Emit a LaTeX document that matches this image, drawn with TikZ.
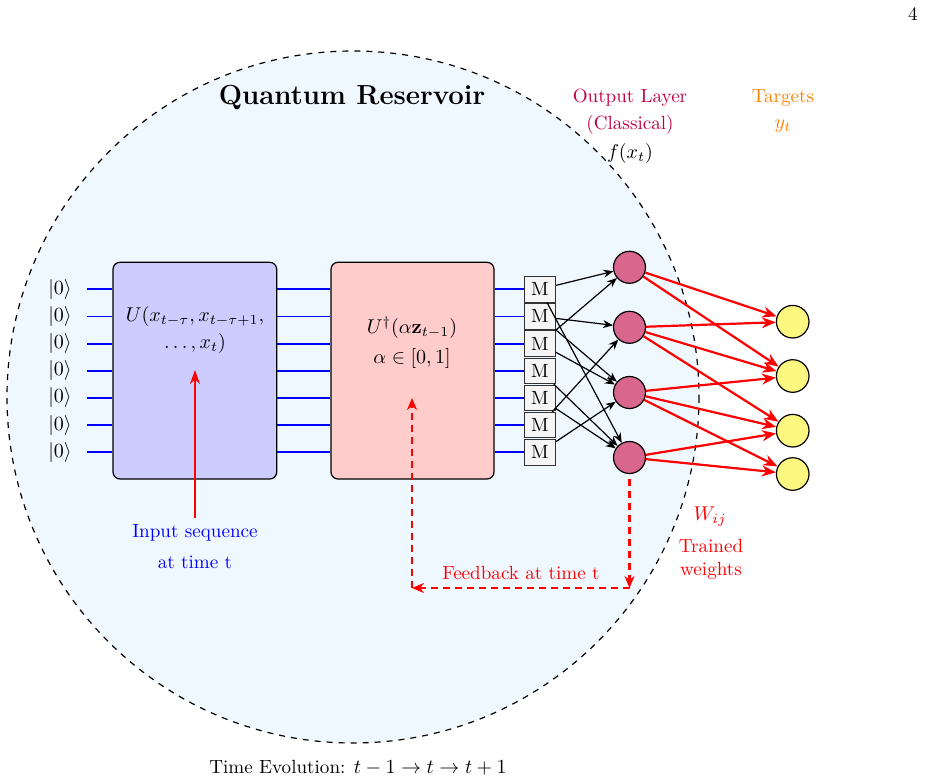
\documentclass[tikz,border=0pt]{standalone}
\usetikzlibrary{arrows.meta}
\definecolor{bgblue}{RGB}{240,248,255}
\begin{document}
\begin{tikzpicture}[x=0.5pt,y=-0.5pt,
  every node/.style={font=\fontsize{9.55}{11.5}\selectfont},
  wire/.style={blue, line width=0.9pt},
  gatebox/.style={draw=black, line width=0.6pt, rounded corners=3.5pt, inner sep=0pt},
  mbox/.style={draw=black!80, fill=gray!8, line width=0.5pt, minimum width=15.3pt, minimum height=12.8pt, inner sep=0pt},
  neuron/.style={circle, draw=black, fill=purple!60, line width=0.6pt, minimum size=16pt, inner sep=0pt},
  target/.style={circle, draw=black, fill=yellow!50, line width=0.6pt, minimum size=16.3pt, inner sep=0pt},
  marrow/.style={-{Stealth[length=5pt,width=4pt]}, line width=0.6pt},
  warrow/.style={red, -{Stealth[length=7pt,width=5.5pt]}, line width=1.1pt},
  fb/.style={red, dash pattern=on 3.5pt off 2.5pt, line width=1.1pt, -{Stealth[length=6pt,width=5pt]}},
]
\useasboundingbox (0,0) rectangle (927,782);
\node (pg) at (913,14) {4};
% reservoir circle
\draw[dashed, line width=0.6pt, fill=bgblue] (353,397) circle[radius=346];
\node[font=\fontsize{13.8}{16}\selectfont\bfseries] (title) at (352,98) {Quantum Reservoir};
% gates
\node[gatebox, fill=blue!20, minimum width=81.85pt, minimum height=108.35pt] (u1) at (194.85,370.65) {};
\node[gatebox, fill=red!20, minimum width=81.5pt, minimum height=108.35pt] (u2) at (412.5,370.65) {};
% kets, wires, measurements
\foreach \i in {1,...,7}{
  \pgfmathsetmacro{\yy}{289.3+27.17*(\i-1)}
  \node (k\i) at (60,\yy) {$|0\rangle$};
  \node[mbox] (m\i) at (540,\yy) {M};
  \draw[wire] ([xshift=4pt]k\i.east) -- (k\i -| u1.west);
  \draw[wire] (k\i -| u1.east) -- (k\i -| u2.west);
  \draw[wire] (k\i -| u2.east) -- (m\i.west);
}
\node (ua) at (195,316) {$U(x_{t-\tau}, x_{t-\tau+1},$};
\node (ub) at (195,343) {$\dots, x_t)$};
\node (va) at (412,328) {$U^\dagger(\alpha\mathbf{z}_{t-1})$};
\node (vb) at (412,358) {$\alpha\in[0,1]$};
% neurons and targets
\node[neuron] (n1) at (629.5,267.3) {};
\node[neuron] (n2) at (629.5,327.3) {};
\node[neuron] (n3) at (629.5,392.5) {};
\node[neuron] (n4) at (629.5,457.5) {};
\node[target] (t1) at (792.7,321.7) {};
\node[target] (t2) at (792.7,376) {};
\node[target] (t3) at (792.7,430.7) {};
\node[target] (t4) at (792.7,474) {};
\foreach \a/\b in {1/1,1/4,2/2,2/3,3/1,3/3,4/4,5/4,6/2,7/3}
  \draw[marrow] (m\a) -- (n\b);
\foreach \a/\b in {1/1,1/2,2/1,2/2,2/3,3/2,3/3,3/4,4/3,4/4}
  \draw[warrow] (n\a) -- (t\b);
% labels
\node[text=purple] (ol1) at (630,98) {Output Layer};
\node[text=purple] (ol2) at (630,125) {(Classical)};
\node (fx) at (630,153) {$f(x_t)$};
\node[text=orange] (tg1) at (783,98) {Targets};
\node[text=orange] (tg2) at (783,126) {$y_t$};
\node[text=red] (w1) at (710,517) {$W_{ij}$};
\node[text=red] (w2) at (711,546) {Trained};
\node[text=red] (w3) at (711,571) {weights};
% input
\node[text=blue] (in1) at (195,533) {Input sequence};
\node[text=blue] (in2) at (195,562) {at time t};
\coordinate (intip) at (195,370);
\draw[red, line width=1.2pt, -{Stealth[length=7pt,width=5pt]}] (in1.north) -- (intip);
% feedback
\coordinate (fbr) at (629.5,588);
\coordinate (fbl) at (412,588);
\coordinate (fbt) at (412,398);
\draw[fb, shorten <=2.5pt] (n4) -- (fbr);
\draw[fb] (fbr) -- (fbl);
\draw[fb] (fbl) -- (fbt);
\node[text=red] (fbtext) at (521,573) {Feedback at time t};
\node (te) at (358,768) {Time Evolution: $t-1\rightarrow t\rightarrow t+1$};
\end{tikzpicture}
\end{document}
